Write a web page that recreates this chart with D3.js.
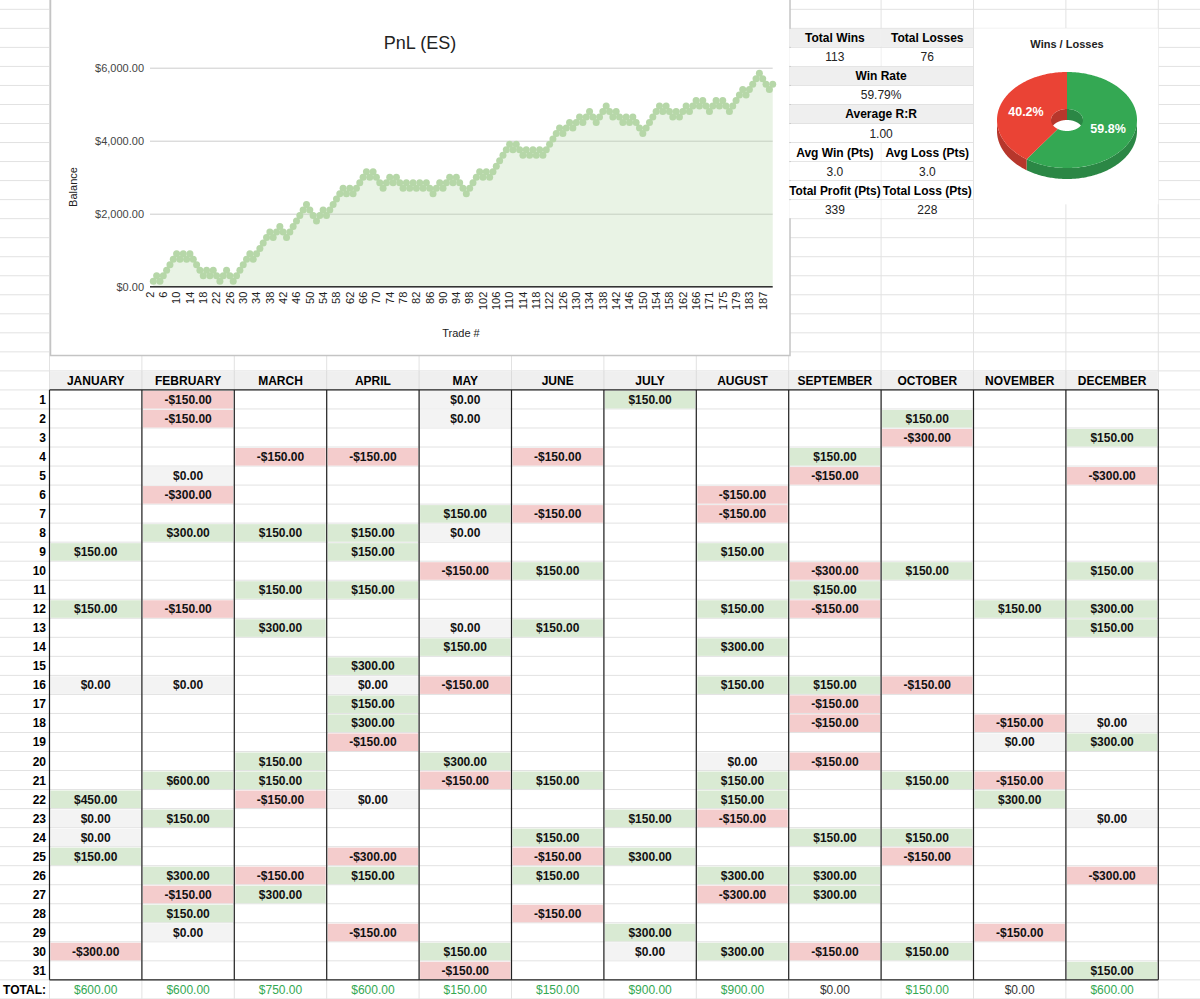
<!DOCTYPE html>
<html>
<head>
<meta charset="utf-8">
<script src="https://cdn.jsdelivr.net/npm/d3@7"></script>
<style>
    body { margin: 0; background: #fff; }
    svg text { font-family: "Liberation Sans", Arial, sans-serif; }
</style>
</head>
<body>
<div id="sheet"></div>
<script>

    // running balance after each trade (steps of $150)
    var balance = [
        150,300,150,300,450,600,750,900,750,900,750,900,750,600,450,300,450,300,450,300,
        150,300,450,300,150,300,450,600,750,900,750,900,1050,1200,1350,1500,1350,1500,1650,1500,
        1350,1500,1650,1800,1950,2100,2250,
        2100,1950,1800,1950,2100,1950,2100,2250,2400,2550,2700,2550,2700,2550,2700,2850,3000,3150,3000,3150,
        3000,2850,2700,2850,3000,2850,3000,2850,2700,2850,2700,2850,2700,2850,2700,2850,2700,2550,2700,2850,
        2700,2850,3000,2850,3000,2850,2700,2550,
        2700,2850,3000,3150,3000,3150,3000,3150,3300,3450,3600,3750,3900,3750,3900,3750,3600,3750,3600,3750,
        3600,3750,3600,3750,3900,4050,4200,4350,4200,4350,4500,4350,4500,4650,4500,4650,4800,4650,4500,4650,
        4800,4950,4800,4650,4800,4650,4500,4650,
        4500,4650,4500,4350,4200,4350,4500,4650,4800,4950,4800,4950,4800,4650,4800,4650,4800,4950,4800,4950,
        5100,4950,5100,4950,4800,4950,5100,4950,5100,4950,4800,4950,5100,5250,5400,5250,5400,5550,5700,5850,
        5700,5550,5400,5550
    ];
    // trade numbers on the x axis (167 is missing in the sheet)
    var tradeNums = d3.range(2, 167).concat(d3.range(168, 190)).map(String);
    var xTickLabels = ["2","6","10","14","18","22","26","30","34","38","42","46","50","54","58","62",
        "66","70","74","78","82","86","90","94","98","102","106","110","114","118","122","126","130",
        "134","138","142","146","150","154","158","162","166","171","175","179","183","187"];
    var yTicks = [0, 2000, 4000, 6000];

    // stats block
    var statRows = [
        ["Total Wins", "Total Losses"],
        ["113", "76"],
        ["Win Rate"],
        ["59.79%"],
        ["Average R:R"],
        ["1.00"],
        ["Avg Win (Pts)", "Avg Loss (Pts)"],
        ["3.0", "3.0"],
        ["Total Profit (Pts)", "Total Loss (Pts)"],
        ["339", "228"]
    ];
    var statBold = [true, false, true, false, true, false, true, false, true, false];
    var statGrey = [true, false, true, false, true, false, false, false, false, false];

    // pie
    var pieLabels = ["Wins", "Losses"];
    var pieValues = [113, 76];
    var pieColors = ["#34a853", "#ea4335"];
    var pieSideColors = ["#2b8745", "#b7372c"];

    // calendar: [day, pnl]
    var months = ["JANUARY","FEBRUARY","MARCH","APRIL","MAY","JUNE","JULY","AUGUST",
        "SEPTEMBER","OCTOBER","NOVEMBER","DECEMBER"];
    var janPnl = [[9,150],[12,150],[16,0],[22,450],[23,0],[24,0],[25,150],[30,-300]];
    var febPnl = [[1,-150],[2,-150],[5,0],[6,-300],[8,300],[12,-150],[16,0],[21,600],[23,150],
        [26,300],[27,-150],[28,150],[29,0]];
    var marPnl = [[4,-150],[8,150],[11,150],[13,300],[20,150],[21,150],[22,-150],[26,-150],[27,300]];
    var aprPnl = [[4,-150],[8,150],[9,150],[11,150],[15,300],[16,0],[17,150],[18,300],[19,-150],
        [22,0],[25,-300],[26,150],[29,-150]];
    var mayPnl = [[1,0],[2,0],[7,150],[8,0],[10,-150],[13,0],[14,150],[16,-150],[20,300],[21,-150],
        [30,150],[31,-150]];
    var junPnl = [[4,-150],[7,-150],[10,150],[13,150],[21,150],[24,150],[25,-150],[26,150],[28,-150]];
    var julPnl = [[1,150],[23,150],[25,300],[29,300],[30,0]];
    var augPnl = [[6,-150],[7,-150],[9,150],[12,150],[14,300],[16,150],[20,0],[21,150],[22,150],
        [23,-150],[26,300],[27,-300],[30,300]];
    var sepPnl = [[4,150],[5,-150],[10,-300],[11,150],[12,-150],[16,150],[17,-150],[18,-150],
        [20,-150],[24,150],[26,300],[27,300],[30,-150]];
    var octPnl = [[2,150],[3,-300],[10,150],[16,-150],[21,150],[24,150],[25,-150],[30,150]];
    var novPnl = [[12,150],[18,-150],[19,0],[21,-150],[22,300],[29,-150]];
    var decPnl = [[3,150],[5,-300],[10,150],[12,300],[13,150],[18,0],[19,300],[23,0],[26,-300],[31,150]];
    var monthPnl = [janPnl, febPnl, marPnl, aprPnl, mayPnl, junPnl, julPnl, augPnl, sepPnl, octPnl, novPnl, decPnl];
    var monthTotals = [600, 600, 750, 600, 150, 150, 900, 900, 0, 150, 0, 600];

    // ---------- sheet geometry ----------
    var W = 1200, H = 999;
    var colX0 = 49.5, colW = 92.4, rowH = 19.03, headTop = 370.9;
    function colX(i) { return colX0 + i * colW; }
    function rowY(k) { return headTop + k * rowH; }   // k=0 header, 1..31 days, 32 total

    var money = d3.format(",.2f");
    function fmt(v) { return (v < 0 ? "-$" : "$") + money(Math.abs(v)); }

    var svg = d3.select('#sheet').append('svg')
        .attr('width', W)
        .attr('height', H);

    svg.append('rect').attr('width', W).attr('height', H).attr('fill', '#fff');

    // background gridlines
    var grid = svg.append('g').attr('stroke', '#e2e2e2').attr('stroke-width', 1);
    d3.range(-20, 34).forEach(function(k) {
        grid.append('line').attr('x1', 0).attr('x2', W)
            .attr('y1', rowY(k)).attr('y2', rowY(k));
    });
    d3.range(0, 14).forEach(function(i) {
        grid.append('line').attr('x1', colX(i)).attr('x2', colX(i))
            .attr('y1', 0).attr('y2', H);
    });

    // ---------- calendar table ----------
    var table = svg.append('g');

    table.append('rect')
        .attr('x', colX(0) + 0.5).attr('y', rowY(0) + 0.5)
        .attr('width', colW * 12 - 1).attr('height', rowH - 1)
        .attr('fill', '#efefef');
    d3.range(1, 12).forEach(function(i) {
        table.append('line').attr('x1', colX(i)).attr('x2', colX(i))
            .attr('y1', rowY(0)).attr('y2', rowY(1))
            .attr('stroke', '#dcdcdc');
    });

    table.selectAll('text.month')
        .data(months)
        .enter()
        .append('text')
        .attr('class', 'month')
        .attr('x', function(d, i) { return colX(i) + colW / 2; })
        .attr('y', rowY(0) + 14)
        .attr('text-anchor', 'middle')
        .attr('font-size', '12px')
        .attr('font-weight', 'bold')
        .attr('fill', '#000')
        .text(function(d) { return d; });

    // day numbers
    table.selectAll('text.day')
        .data(d3.range(1, 32))
        .enter()
        .append('text')
        .attr('class', 'day')
        .attr('x', 46)
        .attr('y', function(d) { return rowY(d) + 14; })
        .attr('text-anchor', 'end')
        .attr('font-size', '12px')
        .attr('font-weight', 'bold')
        .attr('fill', '#000')
        .text(function(d) { return d; });

    var cells = [];
    monthPnl.forEach(function(list, m) {
        list.forEach(function(c) { cells.push({ m: m, day: c[0], v: c[1] }); });
    });

    table.selectAll('rect.cell')
        .data(cells)
        .enter()
        .append('rect')
        .attr('class', 'cell')
        .attr('x', function(d) { return colX(d.m) + 1; })
        .attr('y', function(d) { return rowY(d.day) + 1; })
        .attr('width', colW - 2)
        .attr('height', rowH - 1.5)
        .attr('fill', function(d) { return d.v > 0 ? '#d9ead3' : d.v < 0 ? '#f4cccc' : '#f3f3f3'; });

    table.selectAll('text.cell')
        .data(cells)
        .enter()
        .append('text')
        .attr('class', 'cell')
        .attr('x', function(d) { return colX(d.m) + colW / 2; })
        .attr('y', function(d) { return rowY(d.day) + 14; })
        .attr('text-anchor', 'middle')
        .attr('font-size', '12px')
        .attr('font-weight', 'bold')
        .attr('fill', '#111')
        .text(function(d) { return fmt(d.v); });

    // black borders
    var borders = table.append('g').attr('stroke', '#222').attr('stroke-width', 1.2);
    d3.range(0, 13).forEach(function(i) {
        borders.append('line').attr('x1', colX(i)).attr('x2', colX(i))
            .attr('y1', rowY(1)).attr('y2', rowY(32));
    });
    [rowY(1), rowY(32)].forEach(function(yy) {
        borders.append('line').attr('x1', colX(0)).attr('x2', colX(12))
            .attr('y1', yy).attr('y2', yy);
    });

    // totals row
    table.append('text')
        .attr('x', 46).attr('y', rowY(32) + 14)
        .attr('text-anchor', 'end')
        .attr('font-size', '12px')
        .attr('font-weight', 'bold')
        .attr('fill', '#000')
        .text('TOTAL:');

    table.selectAll('text.total')
        .data(monthTotals)
        .enter()
        .append('text')
        .attr('class', 'total')
        .attr('x', function(d, i) { return colX(i) + colW / 2; })
        .attr('y', rowY(32) + 14)
        .attr('text-anchor', 'middle')
        .attr('font-size', '12px')
        .attr('fill', function(d) { return d > 0 ? '#34a853' : '#333'; })
        .text(function(d) { return fmt(d); });

    // ---------- balance chart ----------
    svg.append('rect')
        .attr('x', 50.5).attr('y', -5)
        .attr('width', 739.5).attr('height', 360.5)
        .attr('fill', '#fff')
        .attr('stroke', '#c4c4c4')
        .attr('stroke-width', 1.5);

    var plotLeft = 150, plotRight = 772.7;

    var xScale = d3.scalePoint()
        .domain(tradeNums)
        .range([153.3, 772.7]);

    var yScale = d3.scaleLinear()
        .domain([0, 6000])
        .range([286.7, 67.7]);

    var g = svg.append('g');

    g.append('g')
        .attr('class', 'yaxis')
        .attr('transform', 'translate(' + plotLeft + ',0)')
        .call(d3.axisLeft(yScale)
            .tickValues(yTicks)
            .tickSize(-(plotRight - plotLeft))
            .tickPadding(6)
            .tickFormat(function(d) { return fmt(d); }))
        .call(function(ax) {
            ax.select('.domain').remove();
            ax.selectAll('line').attr('stroke', '#cccccc');
            ax.selectAll('text')
                .attr('fill', '#444')
                .attr('font-size', '11px')
                .attr('font-family', '"Liberation Sans", Arial, sans-serif');
        });

    var area = d3.area()
        .x(function(d, i) { return xScale(tradeNums[i]); })
        .y0(yScale(0))
        .y1(function(d) { return yScale(d); });

    var line = d3.line()
        .x(function(d, i) { return xScale(tradeNums[i]); })
        .y(function(d) { return yScale(d); });

    g.append('path')
        .datum(balance)
        .attr('d', area)
        .attr('fill', '#b6d7a8')
        .attr('fill-opacity', 0.3);

    g.append('path')
        .datum(balance)
        .attr('d', line)
        .attr('fill', 'none')
        .attr('stroke', '#b6d7a8')
        .attr('stroke-width', 2);

    g.selectAll('circle.point')
        .data(balance)
        .enter()
        .append('circle')
        .attr('class', 'point')
        .attr('cx', function(d, i) { return xScale(tradeNums[i]); })
        .attr('cy', function(d) { return yScale(d); })
        .attr('r', 3.5)
        .attr('fill', '#b6d7a8');

    g.append('g')
        .attr('class', 'xaxis')
        .attr('transform', 'translate(0,' + yScale(0) + ')')
        .call(d3.axisBottom(xScale).tickValues(xTickLabels).tickSize(0))
        .call(function(ax) {
            ax.select('.domain').remove();
            ax.selectAll('text')
                .attr('transform', 'rotate(-90)')
                .attr('x', -5)
                .attr('y', 0)
                .attr('dy', 0)
                .attr('text-anchor', 'end')
                .attr('fill', '#222')
                .attr('font-size', '11px')
                .attr('font-family', '"Liberation Sans", Arial, sans-serif');
        });

    g.append('line')
        .attr('x1', plotLeft).attr('x2', plotRight)
        .attr('y1', yScale(0)).attr('y2', yScale(0))
        .attr('stroke', '#333')
        .attr('stroke-width', 1.6);

    g.append('text')
        .attr('x', 420).attr('y', 49)
        .attr('text-anchor', 'middle')
        .attr('font-size', '18px')
        .attr('fill', '#222')
        .text('PnL (ES)');

    g.append('text')
        .attr('transform', 'translate(77,187) rotate(-90)')
        .attr('text-anchor', 'middle')
        .attr('font-size', '11px')
        .attr('fill', '#222')
        .text('Balance');

    g.append('text')
        .attr('x', 461).attr('y', 337)
        .attr('text-anchor', 'middle')
        .attr('font-size', '11px')
        .attr('fill', '#222')
        .text('Trade #');

    // ---------- stats block ----------
    var sx0 = colX(8), sx1 = colX(9), sx2 = colX(10);
    var stats = svg.append('g');
    statRows.forEach(function(row, r) {
        var top = rowY(-18 + r);
        var bg = statGrey[r] ? '#efefef' : '#fff';
        if (row.length === 1) {
            stats.append('rect').attr('x', sx0 + 0.5).attr('y', top + 0.5)
                .attr('width', sx2 - sx0 - 1).attr('height', rowH - 1).attr('fill', bg);
        } else {
            stats.append('rect').attr('x', sx0 + 0.5).attr('y', top + 0.5)
                .attr('width', sx1 - sx0 - 1).attr('height', rowH - 1).attr('fill', bg);
            stats.append('rect').attr('x', sx1 + 0.5).attr('y', top + 0.5)
                .attr('width', sx2 - sx1 - 1).attr('height', rowH - 1).attr('fill', bg);
        }
        row.forEach(function(txt, c) {
            var cx = row.length === 1 ? (sx0 + sx2) / 2 : (c === 0 ? (sx0 + sx1) / 2 : (sx1 + sx2) / 2);
            var t = stats.append('text')
                .attr('x', cx).attr('y', top + 14)
                .attr('text-anchor', 'middle')
                .attr('font-size', '12px')
                .attr('font-weight', statBold[r] ? 'bold' : 'normal')
                .attr('fill', statBold[r] ? '#000' : '#222')
                .text(txt);
            if (t.node().getComputedTextLength() > colW - 1) {
                t.attr('textLength', colW - 1).attr('lengthAdjust', 'spacingAndGlyphs');
            }
        });
    });

    // ---------- 3d donut ----------
    var pieBox = svg.append('g');
    pieBox.append('rect')
        .attr('x', colX(10) + 0.5).attr('y', rowY(-18))
        .attr('width', colX(12) - colX(10) - 0.5).attr('height', 176)
        .attr('fill', '#fff');

    pieBox.append('text')
        .attr('x', 1067).attr('y', 48)
        .attr('text-anchor', 'middle')
        .attr('font-size', '11px')
        .attr('font-weight', 'bold')
        .attr('fill', '#222')
        .text('Wins / Losses');

    var pcx = 1067, pcy = 120, pR = 70, pRy = 48, hR = 16, hRy = 11, depth = 11;

    function ept(a, rx, ry, dy) {
        return [pcx + rx * Math.sin(a), pcy - ry * Math.cos(a) + dy];
    }
    function arcPts(a0, a1, rx, ry, dy) {
        var n = Math.max(2, Math.ceil(Math.abs(a1 - a0) / 0.02));
        return d3.range(n + 1).map(function(i) { return ept(a0 + (a1 - a0) * i / n, rx, ry, dy); });
    }
    var poly = d3.line();

    var slices = d3.pie().sort(null)(pieValues);

    // outer walls (front half)
    slices.forEach(function(s, i) {
        var lo = Math.max(s.startAngle, Math.PI / 2), hi = Math.min(s.endAngle, 3 * Math.PI / 2);
        if (lo < hi) {
            pieBox.append('path')
                .attr('d', poly(arcPts(lo, hi, pR, pRy, 0).concat(arcPts(hi, lo, pR, pRy, depth))) + 'Z')
                .attr('fill', pieSideColors[i]);
        }
    });
    // inner walls (back half of the hole)
    slices.forEach(function(s, i) {
        [[0, Math.PI / 2], [3 * Math.PI / 2, 2 * Math.PI]].forEach(function(rng) {
            var lo = Math.max(s.startAngle, rng[0]), hi = Math.min(s.endAngle, rng[1]);
            if (lo < hi) {
                pieBox.append('path')
                    .attr('d', poly(arcPts(lo, hi, hR, hRy, 0).concat(arcPts(hi, lo, hR, hRy, depth))) + 'Z')
                    .attr('fill', pieSideColors[i]);
            }
        });
    });
    // top faces
    slices.forEach(function(s, i) {
        pieBox.append('path')
            .attr('d', poly(arcPts(s.startAngle, s.endAngle, pR, pRy, 0)
                .concat(arcPts(s.endAngle, s.startAngle, hR, hRy, 0))) + 'Z')
            .attr('fill', pieColors[i]);
    });
    var total = d3.sum(pieValues);
    var pct = d3.format('.1%');
    slices.forEach(function(s, i) {
        var mid = (s.startAngle + s.endAngle) / 2;
        var p = ept(mid, pR * 0.615, pRy * 0.615, 0);
        pieBox.append('text')
            .attr('x', p[0]).attr('y', p[1] + 4.5)
            .attr('text-anchor', 'middle')
            .attr('font-size', '12.5px')
            .attr('font-weight', 'bold')
            .attr('fill', '#fff')
            .text(pct(pieValues[i] / total));
    });

</script>
</body>
</html>
